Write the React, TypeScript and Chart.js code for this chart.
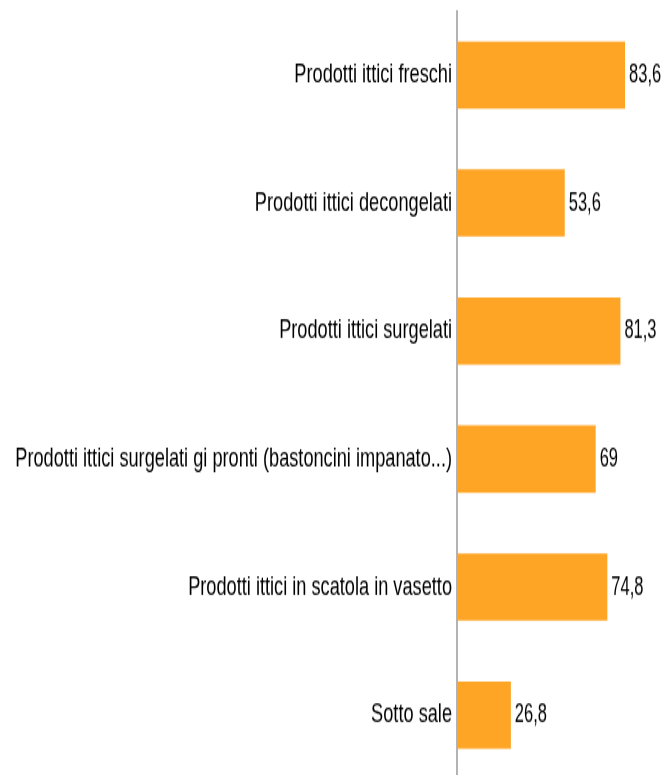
import React, { useEffect, useRef } from "react";
import { Chart, registerables } from "chart.js";

Chart.register(...registerables);

const categories = [
  "Prodotti ittici freschi",
  "Prodotti ittici decongelati",
  "Prodotti ittici surgelati",
  "Prodotti ittici surgelati gi pronti (bastoncini impanato...)",
  "Prodotti ittici in scatola in vasetto",
  "Sotto sale",
];
const values = [83.6, 53.6, 81.3, 69, 74.8, 26.8];
const valueLabels = ["83,6", "53,6", "81,3", "69", "74,8", "26,8"];

const FONT = "'Liberation Sans', Arial, sans-serif";
const SY = 1.444;
const LOGICAL_H = 547;

export default function App() {
  const ref = useRef<HTMLCanvasElement | null>(null);

  useEffect(() => {
    if (!ref.current) return;
    const valuePlugin = {
      id: "valueLabels",
      afterDatasetsDraw(chart: any) {
        const ctx = chart.ctx;
        const meta = chart.getDatasetMeta(0);
        meta.data.forEach((el: any, i: number) => {
          ctx.save();
          ctx.translate(el.x + 4, el.y);
          ctx.scale(1, 1.13);
          ctx.font = `16.5px ${FONT}`;
          ctx.fillStyle = "#000";
          ctx.textAlign = "left";
          ctx.textBaseline = "middle";
          ctx.fillText(valueLabels[i], 0, 0);
          ctx.restore();
        });
      },
    };
    const chart = new Chart(ref.current, {
      type: "bar",
      data: {
        labels: categories,
        datasets: [
          {
            data: values,
            backgroundColor: "#FFA526",
            borderWidth: 0,
            categoryPercentage: 1,
            barPercentage: 0.525,
          },
        ],
      },
      options: {
        indexAxis: "y",
        animation: false,
        responsive: false,
        maintainAspectRatio: false,
        layout: { padding: { top: 7.6, bottom: 7.5, left: 0, right: 5 } },
        plugins: { legend: { display: false }, tooltip: { enabled: false } },
        scales: {
          x: { display: false, min: 0, max: 100 },
          y: {
            grid: { display: false, drawTicks: false },
            border: { display: true, color: "#b3b3b3", width: 2 },
            ticks: {
              color: "#000",
              font: { family: FONT, size: 18.2 },
              padding: 5,
            },
            afterFit(scale: any) {
              scale.width = 457;
              scale.paddingTop = 0;
              scale.paddingBottom = 0;
            },
          },
        },
      },
      plugins: [valuePlugin],
    });
    return () => chart.destroy();
  }, []);

  return (
    <div
      style={{
        position: "fixed",
        left: 0,
        top: 0,
        width: 663,
        height: 775,
        overflow: "hidden",
        background: "#fff",
      }}
    >
      <div style={{ transform: `scaleY(${SY})`, transformOrigin: "0 0" }}>
        <canvas ref={ref} width={663} height={LOGICAL_H} style={{ display: "block" }} />
      </div>
    </div>
  );
}
